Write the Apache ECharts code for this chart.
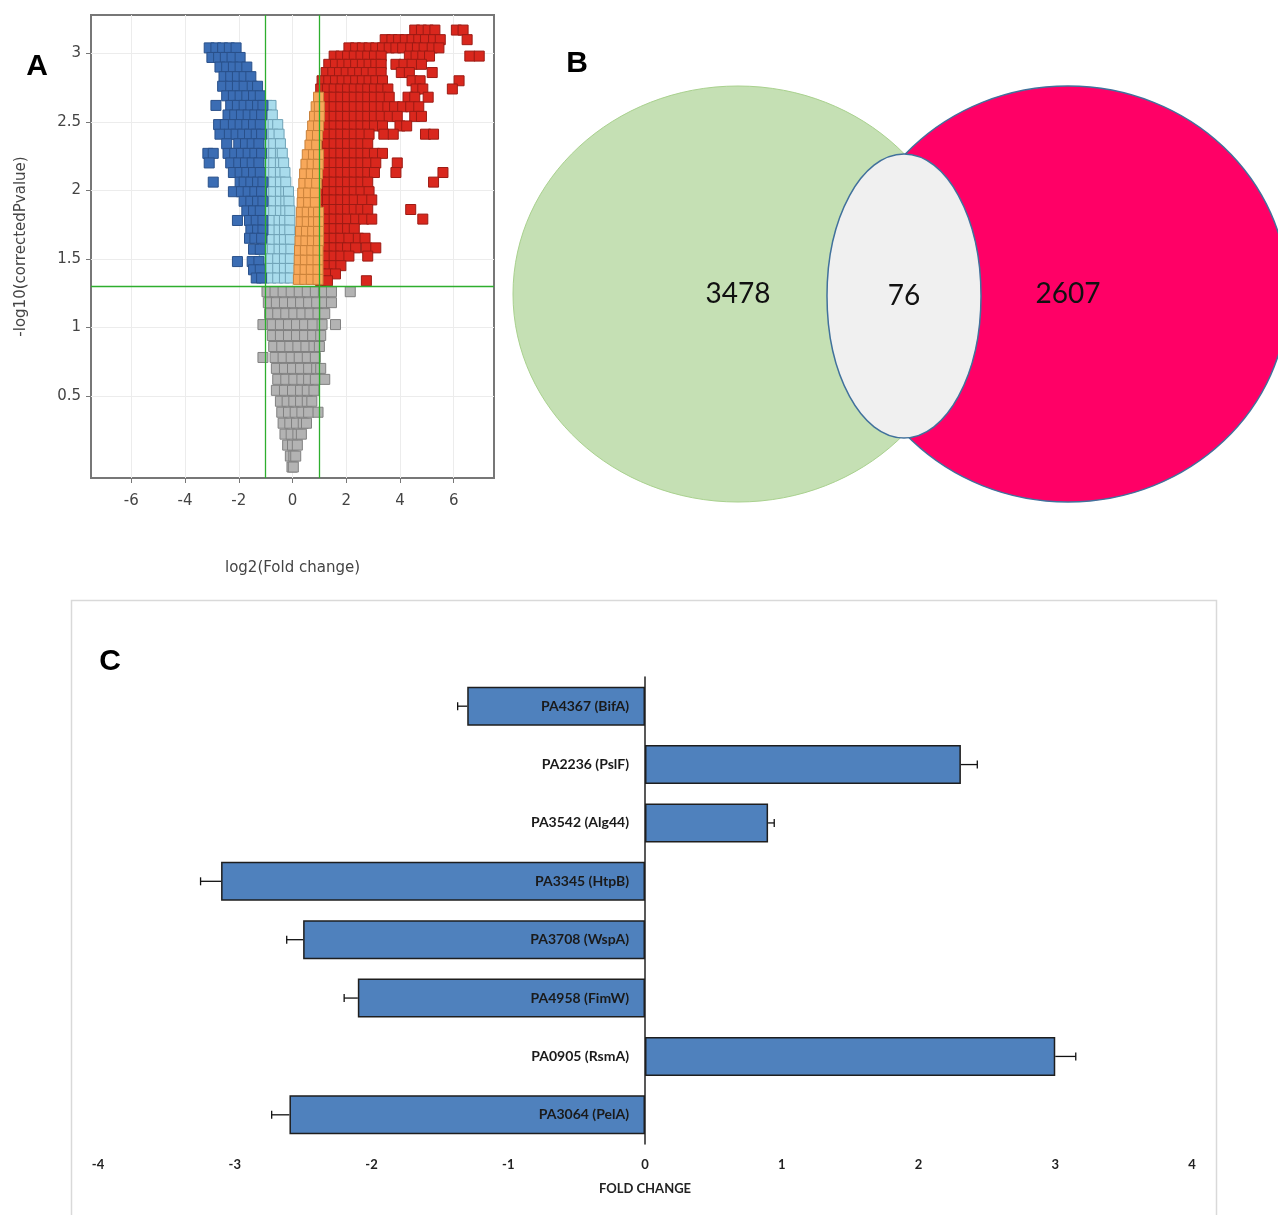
<!DOCTYPE html>
<html>
<head>
<meta charset="utf-8">
<script src="https://cdn.jsdelivr.net/npm/echarts@6/dist/echarts.min.js"></script>
<style>
  html, body { margin: 0; padding: 0; background: #fff; }
  #main { width: 1278px; height: 1215px; }
</style>
</head>
<body>
<div id="main"></div>
<script>
// ---- panel A : volcano plot, rows of points [y, [x, x, ...]]
var grayRows = [
  [-0.02, [-0.02, 0.03]],
  [0.06, [-0.08, 0.05, 0.12]],
  [0.14, [-0.18, 0.0, 0.18]],
  [0.22, [-0.28, -0.05, 0.2, 0.33]],
  [0.30, [-0.35, -0.1, 0.15, 0.4, 0.52]],
  [0.38, [-0.4, -0.15, 0.1, 0.35, 0.6, 0.95]],
  [0.46, [-0.45, -0.2, 0.05, 0.3, 0.55, 0.72]],
  [0.54, [-0.6, -0.3, 0.0, 0.3, 0.55, 0.8]],
  [0.62, [-0.55, -0.25, 0.05, 0.35, 0.6, 0.85, 1.2]],
  [0.70, [-0.6, -0.3, 0.0, 0.3, 0.6, 0.9, 1.05]],
  [0.78, [-1.1, -0.65, -0.35, -0.05, 0.25, 0.55, 0.85]],
  [0.86, [-0.7, -0.4, -0.1, 0.2, 0.5, 0.8, 1.0]],
  [0.94, [-0.75, -0.45, -0.15, 0.15, 0.45, 0.75, 1.05]],
  [1.02, [-1.1, -0.75, -0.45, -0.15, 0.15, 0.45, 0.75, 1.1, 1.6]],
  [1.10, [-0.85, -0.55, -0.25, 0.05, 0.35, 0.65, 0.95, 1.2]],
  [1.18, [-0.9, -0.6, -0.3, 0.0, 0.3, 0.6, 0.9, 1.2, 1.45]],
  [1.26, [-0.95, -0.65, -0.35, -0.05, 0.25, 0.55, 0.85, 1.15, 1.45, 2.15]]
];
var lightBlueRows = [
  [2.62, [-0.95, -0.8]],
  [2.55, [-0.95, -0.75]],
  [2.48, [-0.95, -0.72, -0.55]],
  [2.41, [-0.95, -0.72, -0.5]],
  [2.34, [-0.95, -0.7, -0.45]],
  [2.27, [-0.95, -0.7, -0.45, -0.38]],
  [2.20, [-0.95, -0.7, -0.45, -0.33]],
  [2.13, [-0.95, -0.7, -0.45, -0.28]],
  [2.06, [-0.95, -0.7, -0.45, -0.25]],
  [1.99, [-0.95, -0.7, -0.45, -0.25, -0.15]],
  [1.92, [-0.95, -0.7, -0.45, -0.25, -0.13]],
  [1.85, [-0.95, -0.7, -0.45, -0.25, -0.1]],
  [1.78, [-1.0, -0.75, -0.5, -0.3, -0.1]],
  [1.71, [-1.0, -0.75, -0.5, -0.3, -0.1]],
  [1.64, [-1.0, -0.75, -0.5, -0.3, -0.08]],
  [1.57, [-1.0, -0.75, -0.5, -0.3, -0.06]],
  [1.50, [-1.05, -0.8, -0.55, -0.3, -0.08]],
  [1.43, [-1.05, -0.8, -0.55, -0.3, -0.08]],
  [1.36, [-1.05, -0.8, -0.55, -0.3, -0.08]]
];
var blueRows = [
  [3.04, [-3.1, -2.85, -2.6, -2.35, -2.1]],
  [2.97, [-3.0, -2.75, -2.5, -2.25, -1.95]],
  [2.90, [-2.7, -2.45, -2.2, -1.95, -1.7]],
  [2.83, [-2.55, -2.3, -2.05, -1.8, -1.55]],
  [2.76, [-2.6, -2.3, -2.05, -1.8, -1.5, -1.3]],
  [2.69, [-2.45, -2.2, -1.95, -1.7, -1.45, -1.2]],
  [2.62, [-2.85, -2.3, -2.05, -1.8, -1.55, -1.3, -1.1]],
  [2.55, [-2.4, -2.15, -1.9, -1.65, -1.4, -1.15]],
  [2.48, [-2.75, -2.5, -2.2, -1.95, -1.7, -1.45, -1.2]],
  [2.41, [-2.7, -2.35, -2.1, -1.85, -1.6, -1.35, -1.15]],
  [2.34, [-2.45, -2.0, -1.75, -1.5, -1.25]],
  [2.27, [-3.15, -2.95, -2.4, -2.15, -1.9, -1.65, -1.4, -1.15]],
  [2.20, [-3.1, -2.3, -2.0, -1.75, -1.5, -1.25]],
  [2.13, [-2.2, -1.95, -1.7, -1.45, -1.2]],
  [2.06, [-2.95, -1.95, -1.8, -1.55, -1.3, -1.1]],
  [1.99, [-2.2, -1.9, -1.65, -1.4, -1.15]],
  [1.92, [-1.8, -1.55, -1.3, -1.1]],
  [1.85, [-1.7, -1.45, -1.2]],
  [1.78, [-2.05, -1.6, -1.35, -1.1]],
  [1.71, [-1.55, -1.3, -1.1]],
  [1.65, [-1.6, -1.4, -1.15]],
  [1.57, [-1.45, -1.2]],
  [1.48, [-2.05, -1.5, -1.25]],
  [1.42, [-1.45, -1.2]],
  [1.36, [-1.35, -1.15]]
];
var orangeRows = [
  [2.68, [0.97]],
  [2.61, [0.88, 1.0]],
  [2.54, [0.82, 1.0]],
  [2.47, [0.75, 0.97]],
  [2.40, [0.7, 0.93]],
  [2.33, [0.65, 0.9]],
  [2.26, [0.55, 0.78, 0.97]],
  [2.19, [0.5, 0.73, 0.96]],
  [2.12, [0.45, 0.7, 0.93]],
  [2.05, [0.42, 0.65, 0.9]],
  [1.98, [0.38, 0.6, 0.85]],
  [1.91, [0.36, 0.6, 0.85]],
  [1.84, [0.33, 0.55, 0.78, 0.97]],
  [1.77, [0.32, 0.55, 0.78, 0.97]],
  [1.70, [0.3, 0.52, 0.75, 0.97]],
  [1.63, [0.28, 0.5, 0.74, 0.97]],
  [1.56, [0.26, 0.48, 0.72, 0.95]],
  [1.49, [0.25, 0.48, 0.72, 0.95]],
  [1.42, [0.24, 0.47, 0.7, 0.95]],
  [1.35, [0.22, 0.46, 0.7, 0.95]]
];
var redRows = [
  [3.17, [4.55, 4.8, 5.05, 5.3, 6.1, 6.35]],
  [3.10, [3.45, 3.7, 3.95, 4.2, 4.45, 4.7, 4.95, 5.25, 5.5, 6.5]],
  [3.04, [2.1, 2.35, 2.6, 2.85, 3.1, 3.35, 3.6, 3.85, 4.1, 4.4, 4.65, 4.9, 5.2, 5.45]],
  [2.98, [1.55, 1.8, 2.05, 2.3, 2.55, 2.8, 3.05, 3.3, 4.35, 4.6, 4.85, 5.1, 6.6, 6.95]],
  [2.92, [1.35, 1.6, 1.85, 2.1, 2.35, 2.6, 2.85, 3.1, 3.3, 3.85, 4.15, 4.45, 4.8]],
  [2.86, [1.25, 1.5, 1.75, 2.0, 2.25, 2.5, 2.75, 3.0, 3.3, 4.05, 4.35, 5.2]],
  [2.80, [1.1, 1.35, 1.6, 1.85, 2.1, 2.35, 2.6, 2.85, 3.1, 3.35, 4.45, 4.75, 6.2]],
  [2.74, [1.05, 1.3, 1.55, 1.8, 2.05, 2.3, 2.55, 2.8, 3.05, 3.3, 3.55, 4.6, 4.85, 5.95]],
  [2.68, [1.05, 1.3, 1.55, 1.8, 2.05, 2.3, 2.55, 2.8, 3.05, 3.3, 3.6, 4.3, 4.55, 5.05]],
  [2.61, [1.05, 1.3, 1.55, 1.8, 2.05, 2.3, 2.55, 2.8, 3.05, 3.3, 3.55, 3.8, 4.1, 4.4, 4.7]],
  [2.54, [1.05, 1.3, 1.55, 1.8, 2.05, 2.3, 2.55, 2.8, 3.05, 3.3, 3.6, 3.9, 4.55, 4.8]],
  [2.47, [1.05, 1.3, 1.55, 1.8, 2.05, 2.3, 2.55, 2.8, 3.05, 3.35, 4.0, 4.25]],
  [2.41, [1.05, 1.3, 1.55, 1.8, 2.05, 2.3, 2.55, 2.85, 3.4, 3.75, 4.95, 5.25]],
  [2.34, [1.05, 1.3, 1.55, 1.8, 2.05, 2.3, 2.55, 2.8]],
  [2.27, [1.05, 1.3, 1.55, 1.8, 2.05, 2.3, 2.55, 2.8, 3.05, 3.35]],
  [2.20, [1.05, 1.3, 1.55, 1.8, 2.05, 2.3, 2.55, 2.8, 3.1, 3.9]],
  [2.13, [1.05, 1.3, 1.55, 1.8, 2.05, 2.3, 2.55, 2.8, 3.05, 3.85, 5.6]],
  [2.06, [1.05, 1.3, 1.55, 1.8, 2.05, 2.3, 2.55, 2.8, 5.25]],
  [1.99, [1.05, 1.3, 1.55, 1.8, 2.05, 2.3, 2.55, 2.85]],
  [1.93, [1.05, 1.3, 1.55, 1.8, 2.05, 2.3, 2.6, 2.95]],
  [1.86, [1.05, 1.3, 1.55, 1.8, 2.05, 2.3, 2.55, 2.8, 4.4]],
  [1.79, [1.05, 1.3, 1.55, 1.8, 2.05, 2.35, 2.65, 2.95, 4.85]],
  [1.72, [1.05, 1.3, 1.55, 1.8, 2.05, 2.3]],
  [1.65, [1.05, 1.3, 1.55, 1.8, 2.1, 2.45, 2.7]],
  [1.58, [1.05, 1.3, 1.55, 1.8, 2.05, 2.35, 2.75, 3.1]],
  [1.52, [1.05, 1.3, 1.55, 1.8, 2.1, 2.8]],
  [1.45, [1.05, 1.3, 1.55, 1.8]],
  [1.39, [1.05, 1.3, 1.6]],
  [1.34, [1.05, 1.3, 2.75]]
];
var volcanoXTicks = [-6, -4, -2, 0, 2, 4, 6];
var volcanoYTicks = [0.5, 1, 1.5, 2, 2.5, 3];

// ---- panel B : venn counts and ellipses [cx, cy, rx, ry] in panel units
var vennCounts = [3478, 2607, 76];
var vennShapes = [[238, 234, 225, 208], [568, 234, 220, 208], [404, 236, 77, 142]];

// ---- panel C : fold change with error bars
var genes = ['PA4367 (BifA)', 'PA2236 (PslF)', 'PA3542 (Alg44)', 'PA3345 (HtpB)',
             'PA3708 (WspA)', 'PA4958 (FimW)', 'PA0905 (RsmA)', 'PA3064 (PelA)'];
var foldChange = [-1.3, 2.31, 0.9, -3.1, -2.5, -2.1, 3.0, -2.6];
var foldErr = [0.07, 0.12, 0.045, 0.15, 0.12, 0.10, 0.15, 0.13];

function rowsToPoints(rows) {
    var pts = [];
    rows.forEach(function (r) {
        r[1].forEach(function (x) { pts.push([x, r[0]]); });
    });
    return pts;
}

function volcanoSeries(rows, fill, border) {
    return {
        type: 'scatter', xAxisIndex: 0, yAxisIndex: 0,
        symbol: 'rect', symbolSize: 10,
        itemStyle: { color: fill, borderColor: border, borderWidth: 1, opacity: 1 },
        data: rowsToPoints(rows),
        silent: true
    };
}

var vennColors = [
    { fill: '#c5e0b4', stroke: '#a9d18e', lw: 1 },
    { fill: '#ff0066', stroke: '#41719c', lw: 1.5 },
    { fill: '#f0f0f0', stroke: '#41719c', lw: 1.5 }
];

var chart = echarts.init(document.getElementById('main'), null, { renderer: 'canvas' });

var grayS = volcanoSeries(grayRows, '#b3b3b3', '#808080');
// significance thresholds
grayS.markLine = {
    silent: true, symbol: 'none', animation: false,
    label: { show: false },
    lineStyle: { color: '#2eae2e', width: 1.3, type: 'solid' },
    data: [{ xAxis: -1 }, { xAxis: 1 }, { yAxis: 1.3 }]
};

var option = {
    backgroundColor: '#fff',
    animation: false,
    grid: [
        { left: 91, top: 15, width: 403, height: 463, show: true, borderColor: '#777', borderWidth: 2, backgroundColor: '#fff', outerBoundsMode: 'none' },
        { left: 500, top: 60, width: 778, height: 460, outerBoundsMode: 'none' },
        { left: 98, top: 677, width: 1094, height: 467, outerBoundsMode: 'none' }
    ],
    xAxis: [
        {
            gridIndex: 0, type: 'value', min: -7.5, max: 7.5,
            axisLine: { show: false, onZero: false },
            axisTick: { show: true, customValues: volcanoXTicks, length: 5, lineStyle: { color: '#777' } },
            axisLabel: { customValues: volcanoXTicks, color: '#444', fontSize: 15, margin: 16, fontFamily: 'DejaVu Sans' },
            splitLine: { show: true, lineStyle: { color: '#ececec' } },
            name: 'log2(Fold change)', nameLocation: 'middle', nameGap: 83,
            nameTextStyle: { color: '#444', fontSize: 15, fontFamily: 'DejaVu Sans' }
        },
        { gridIndex: 1, type: 'value', min: 0, max: 778, show: false },
        {
            gridIndex: 2, type: 'value', min: -4, max: 4, interval: 1,
            axisLine: { show: false }, axisTick: { show: false }, splitLine: { show: false },
            axisLabel: { color: '#222', fontSize: 13, fontWeight: 'bold', fontFamily: 'Lato', margin: 14 },
            name: 'FOLD CHANGE', nameLocation: 'middle', nameGap: 38,
            nameTextStyle: { color: '#222', fontSize: 13, fontWeight: 'bold', fontFamily: 'Lato' }
        }
    ],
    yAxis: [
        {
            gridIndex: 0, type: 'value', min: -0.1, max: 3.28,
            axisLine: { show: false, onZero: false },
            axisTick: { show: true, customValues: volcanoYTicks, length: 5, lineStyle: { color: '#777' } },
            axisLabel: { customValues: volcanoYTicks, color: '#444', fontSize: 15, margin: 10, fontFamily: 'DejaVu Sans' },
            splitLine: { show: true, lineStyle: { color: '#ececec' } },
            name: '-log10(correctedPvalue)', nameLocation: 'middle', nameGap: 62, nameRotate: 90,
            nameTextStyle: { color: '#444', fontSize: 15, fontFamily: 'DejaVu Sans' }
        },
        { gridIndex: 1, type: 'value', min: 0, max: 460, inverse: true, show: false },
        {
            gridIndex: 2, type: 'category', data: genes, inverse: true,
            axisLine: { show: true, onZero: true, lineStyle: { color: '#222', width: 1.5 } },
            axisTick: { show: false },
            axisLabel: { show: false }
        }
    ],
    series: [
        grayS,
        volcanoSeries(lightBlueRows, '#a9dcec', '#6fa2b6'),
        volcanoSeries(blueRows, '#3b6db4', '#29508a'),
        volcanoSeries(redRows, '#d9271d', '#9c1b14'),
        volcanoSeries(orangeRows, '#f8a85a', '#c9813a'),
        {
            type: 'custom', xAxisIndex: 1, yAxisIndex: 1, silent: true,
            data: vennShapes.map(function (s, i) { return s.concat([vennCounts[i], i]); }),
            renderItem: function (params, api) {
                var i = api.value(5);
                var c = api.coord([api.value(0), api.value(1)]);
                var sz = api.size([api.value(2), api.value(3)]);
                return {
                    type: 'ellipse',
                    shape: { cx: c[0], cy: c[1], rx: sz[0], ry: sz[1] },
                    style: { fill: vennColors[i].fill, stroke: vennColors[i].stroke, lineWidth: vennColors[i].lw },
                    textContent: {
                        style: { text: String(api.value(4)), fill: '#111', fontSize: 28, fontFamily: 'Lato' }
                    },
                    textConfig: { position: 'inside' }
                };
            }
        },
        {
            type: 'bar', xAxisIndex: 2, yAxisIndex: 2, data: foldChange, barWidth: 39,
            itemStyle: { color: '#4f81bd', borderColor: '#1e1e1e', borderWidth: 1.5 },
            silent: true
        },
        {
            type: 'custom', xAxisIndex: 2, yAxisIndex: 2, silent: true, z: 5,
            encode: { x: 1, y: 0 },
            data: foldChange.map(function (v, i) { return [i, v, foldErr[i]]; }),
            renderItem: function (params, api) {
                var cat = api.value(0), v = api.value(1), e = api.value(2);
                var end = v < 0 ? v - e : v + e;
                var p0 = api.coord([v, cat]);
                var p1 = api.coord([end, cat]);
                var st = { stroke: '#111', lineWidth: 1.3 };
                return {
                    type: 'group',
                    children: [
                        { type: 'line', shape: { x1: p0[0], y1: p0[1], x2: p1[0], y2: p1[1] }, style: st },
                        { type: 'line', shape: { x1: p1[0], y1: p1[1] - 4, x2: p1[0], y2: p1[1] + 4 }, style: st }
                    ]
                };
            }
        },
        {
            // gene names sit just left of the zero line
            type: 'custom', xAxisIndex: 2, yAxisIndex: 2, silent: true, z: 6,
            encode: { x: 1, y: 0 },
            data: genes.map(function (g, i) { return [i, 0]; }),
            renderItem: function (params, api) {
                var i = api.value(0);
                var p = api.coord([0, i]);
                return {
                    type: 'text', x: p[0] - 16, y: p[1],
                    style: { text: genes[i], font: 'bold 14px Lato', fill: '#1a1a1a', textAlign: 'right', textVerticalAlign: 'middle' }
                };
            }
        }
    ],
    graphic: [
        { type: 'rect', shape: { x: 71.5, y: 600.5, width: 1145, height: 660 }, style: { fill: 'none', stroke: '#d9d9d9', lineWidth: 1.5 }, z: -1 },
        { type: 'text', x: 37, y: 67, style: { text: 'A', font: 'bold 30px "Liberation Sans", Arial', fill: '#000', textAlign: 'center', textVerticalAlign: 'middle' } },
        { type: 'text', x: 577, y: 64, style: { text: 'B', font: 'bold 30px "Liberation Sans", Arial', fill: '#000', textAlign: 'center', textVerticalAlign: 'middle' } },
        { type: 'text', x: 110, y: 662, style: { text: 'C', font: 'bold 30px "Liberation Sans", Arial', fill: '#000', textAlign: 'center', textVerticalAlign: 'middle' } }
    ]
};

chart.setOption(option);
</script>
</body>
</html>
